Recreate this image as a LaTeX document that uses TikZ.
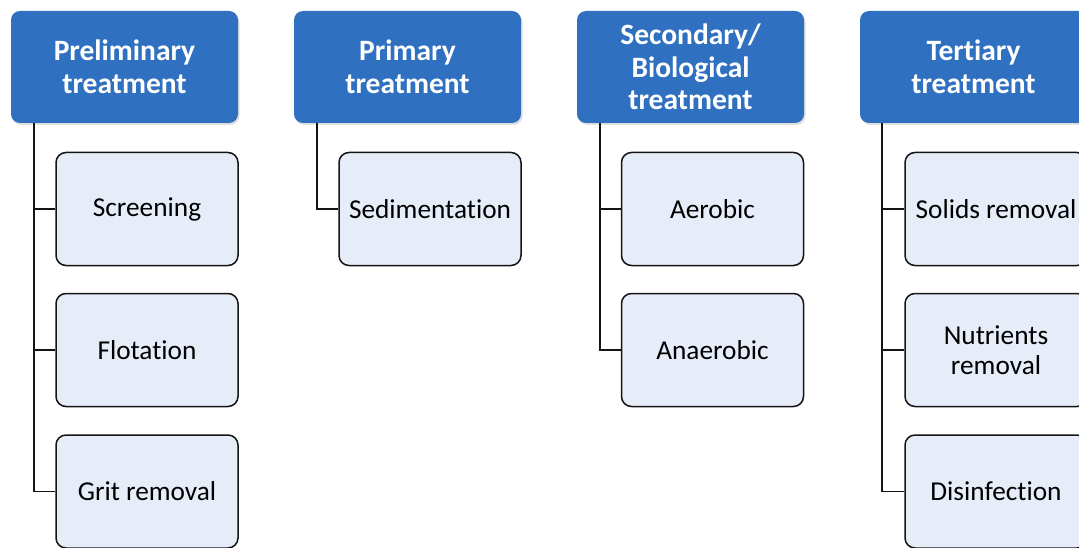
\documentclass[tikz,border=0pt]{standalone}
\usepackage{fontspec}
\setmainfont{Carlito}[Ligatures=NoCommon]
\usetikzlibrary{shadows}
\definecolor{hdrblue}{RGB}{48,112,192}
\definecolor{childfill}{RGB}{230,236,248}
\definecolor{edgecol}{RGB}{20,20,20}
\begin{document}
\begin{tikzpicture}[x=1pt,y=1pt,
  hdr/.style={draw=none, fill=hdrblue, rounded corners=9pt, minimum width=227pt, minimum height=112pt,
    text=white, font=\fontsize{29.5}{32.5}\selectfont\bfseries, align=center, inner sep=0pt,
    drop shadow={opacity=0.25, shadow xshift=1.5pt, shadow yshift=-2pt}},
  child/.style={draw=edgecol, line width=1.5pt, fill=childfill, rounded corners=10pt, minimum width=182pt, minimum height=113pt,
    text=black, font=\fontsize{27.3}{30}\selectfont, align=center, inner sep=0pt},
  conn/.style={draw=edgecol, line width=1.5pt}]
\useasboundingbox (0,0) rectangle (1079,-548);
% headers
\node[hdr] (h1) at (124.5,-67) {Preliminary\\treatment};
\node[hdr] (h2) at (407.5,-67) {Primary\\treatment};
\node[hdr] (h3) at (690.5,-67) {Secondary/\\Biological\\treatment};
\node[hdr] (h4) at (973.5,-67) {Tertiary\\treatment};
% children
\node[child] (c1a) at (147,-209) {Screening};
\node[child] (c1b) at (147,-350) {Flotation};
\node[child] (c1c) at (147,-491.5) {Grit removal};
\node[child] (c2a) at (430,-209) {Sedimentation};
\node[child] (c3a) at (712.5,-209) {Aerobic};
\node[child] (c3b) at (712.5,-350) {Anaerobic};
\node[child] (c4a) at (996,-209) {Solids removal};
\node[child] (c4b) at (996,-350) {Nutrients\\removal};
\node[child] (c4c) at (996,-491.5) {Disinfection};
% connectors
\draw[conn] ([xshift=23pt]h1.south west) |- (c1a.west);
\draw[conn] ([xshift=23pt]h1.south west) |- (c1b.west);
\draw[conn] ([xshift=23pt]h1.south west) |- (c1c.west);
\draw[conn] ([xshift=23pt]h2.south west) |- (c2a.west);
\draw[conn] ([xshift=23pt]h3.south west) |- (c3a.west);
\draw[conn] ([xshift=23pt]h3.south west) |- (c3b.west);
\draw[conn] ([xshift=22pt]h4.south west) |- (c4a.west);
\draw[conn] ([xshift=22pt]h4.south west) |- (c4b.west);
\draw[conn] ([xshift=22pt]h4.south west) |- (c4c.west);
\end{tikzpicture}
\end{document}
